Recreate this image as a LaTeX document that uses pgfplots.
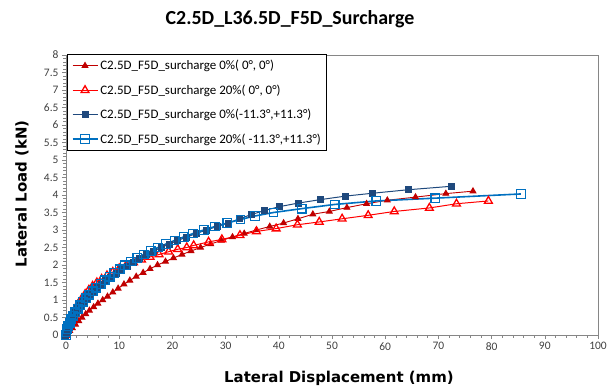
\documentclass[border=0pt]{standalone}
\usepackage{fontspec}
\setmainfont{Carlito}
\newfontfamily\labfont{DejaVu Sans}
\usepackage{pgfplots}
\pgfplotsset{compat=1.18}
\definecolor{sA}{HTML}{C00000}
\definecolor{sB}{HTML}{FF0000}
\definecolor{sC}{HTML}{1F497D}
\definecolor{sD}{HTML}{0070C0}
\definecolor{axgray}{HTML}{868686}
\definecolor{ticktext}{HTML}{404040}
\begin{document}
\begin{tikzpicture}
\useasboundingbox (-66bp,-55bp) rectangle (542bp,335bp);
\begin{axis}[
 at={(0,0)}, anchor=south west,
 scale only axis, width=532bp, height=280bp,
 xmin=0, xmax=100, ymin=0, ymax=8,
 xtick={0,10,...,100}, ytick={0,0.5,...,8},
 minor x tick num=4, minor y tick num=4,
 tick align=outside, tick pos=left,
 major tick length=4bp, minor tick length=2.5bp,
 axis line style={axgray, line width=0.8bp},
 every tick/.style={axgray, line width=0.6bp},
 tick label style={font=\fontsize{11.5}{13}\selectfont, text=ticktext},
 /pgf/number format/assume math mode=true,
 xlabel={Lateral Displacement (mm)},
 ylabel={Lateral Load (kN)},
 label style={font=\labfont\bfseries\fontsize{15}{18}\selectfont},
 xlabel style={at={(axis description cs:0.513,-0.154)}, anchor=center},
 ylabel style={at={(axis description cs:-0.0827,0.504)}, anchor=center},
 legend style={at={(axis description cs:0.0025,1.004)}, anchor=north west, draw=black, line width=0.8bp, font=\fontsize{13}{15}\selectfont, inner xsep=4bp, inner ysep=4bp, row sep=9.5bp},
 legend cell align=left,
 legend image code/.code={\draw[mark repeat=2,mark phase=2,#1] plot coordinates {(0bp,0bp) (12.5bp,0bp) (25bp,0bp)};},
]
\addplot[color=sA, line width=0.9bp, mark=triangle*, mark size=3.3bp, mark options={fill=sA, solid}] coordinates {
(0,0) (0.3,0.05) (0.7,0.12) (1.2,0.2) (1.8,0.3) (2.4,0.4) (3.0,0.5) (3.7,0.6) (4.4,0.7) (5.2,0.8) (6.0,0.9) (6.9,1.0) (7.8,1.1) (8.8,1.22) (9.8,1.33) (10.9,1.45) (12.0,1.56) (13.2,1.67) (14.5,1.78) (15.8,1.89) (17.2,2.0) (18.7,2.1) (20.2,2.2) (21.8,2.3) (23.5,2.4) (25.3,2.5) (27.2,2.6) (29.2,2.7) (31.3,2.8) (33.5,2.9) (35.8,3.0) (38.3,3.1) (40.9,3.2) (43.6,3.32) (46.4,3.45) (49.5,3.53) (52.8,3.64) (56.5,3.75) (60.4,3.85) (65.7,3.94) (71.4,4.04) (76.5,4.11)
};
\addlegendentry{C2.5D\_F5D\_surcharge 0\%( 0°, 0°)}
\addplot[color=sB, line width=1bp, mark=triangle, mark size=4.5bp, mark options={line width=1.3bp, solid}] coordinates {
(0,0) (0.2,0.12) (0.4,0.24) (0.7,0.38) (1.0,0.5) (1.4,0.64) (1.9,0.79) (2.4,0.92) (3.0,1.05) (3.6,1.17) (4.3,1.29) (5.0,1.4) (5.8,1.5) (6.7,1.6) (7.7,1.7) (8.8,1.8) (10.0,1.9) (11.3,1.99) (12.7,2.07) (14.2,2.15) (15.8,2.23) (17.5,2.3) (19.3,2.38) (21.0,2.45) (22.7,2.5) (24.0,2.56) (26.8,2.66) (29.3,2.73) (32.7,2.85) (35.8,2.96) (39.5,3.04) (43.5,3.15) (47.6,3.23) (51.9,3.32) (56.8,3.42) (61.7,3.53) (68.3,3.63) (73.4,3.75) (79.4,3.83)
};
\addlegendentry{C2.5D\_F5D\_surcharge 20\%( 0°, 0°)}
\addplot[color=sC, line width=1bp, mark=square*, mark size=3bp, mark options={fill=sC, solid}] coordinates {
(0,0) (0.15,0.08) (0.3,0.16) (0.5,0.25) (0.75,0.35) (1.05,0.45) (1.4,0.55) (1.8,0.65) (2.25,0.75) (2.75,0.85) (3.3,0.95) (3.9,1.05) (4.5,1.15) (5.2,1.25) (5.9,1.35) (6.7,1.45) (7.5,1.55) (8.4,1.65) (9.4,1.76) (10.4,1.86) (11.5,1.97) (12.6,2.07) (13.8,2.18) (15.1,2.29) (16.5,2.4) (17.9,2.5) (19.4,2.6) (21.0,2.7) (22.7,2.8) (24.5,2.9) (26.4,3.0) (28.4,3.1) (30.5,3.2) (32.6,3.32) (34.8,3.44) (37.4,3.56) (40.2,3.67) (43.7,3.77) (47.9,3.87) (52.6,3.97) (57.6,4.05) (64.3,4.15) (72.5,4.25)
};
\addlegendentry{C2.5D\_F5D\_surcharge 0\%(-11.3°,+11.3°)}
\addplot[color=sD, line width=1.6bp, mark=square, mark size=4.3bp, mark options={line width=1.3bp, solid}] coordinates {
(0,0) (0.1,0.08) (0.25,0.16) (0.45,0.25) (0.7,0.35) (1.0,0.45) (1.35,0.55) (1.75,0.65) (2.2,0.75) (2.7,0.85) (3.2,0.95) (3.8,1.05) (4.4,1.15) (5.0,1.25) (5.7,1.35) (6.5,1.46) (7.3,1.56) (8.2,1.67) (9.1,1.77) (10.1,1.88) (11.1,1.99) (12.2,2.1) (13.4,2.2) (14.6,2.3) (15.9,2.4) (17.3,2.5) (18.8,2.6) (20.4,2.7) (22.1,2.8) (23.9,2.9) (25.9,3.0) (28.0,3.1) (30.3,3.2) (32.8,3.3) (35.5,3.4) (39.0,3.5) (44.3,3.61) (50.5,3.73) (58.3,3.83) (69.4,3.91) (85.5,4.03)
};
\addlegendentry{C2.5D\_F5D\_surcharge 20\%( -11.3°,+11.3°)}
\end{axis}
\node[font=\bfseries\fontsize{20}{24}\selectfont] at (224bp,316bp) {C2.5D\_L36.5D\_F5D\_Surcharge};
\end{tikzpicture}
\end{document}
